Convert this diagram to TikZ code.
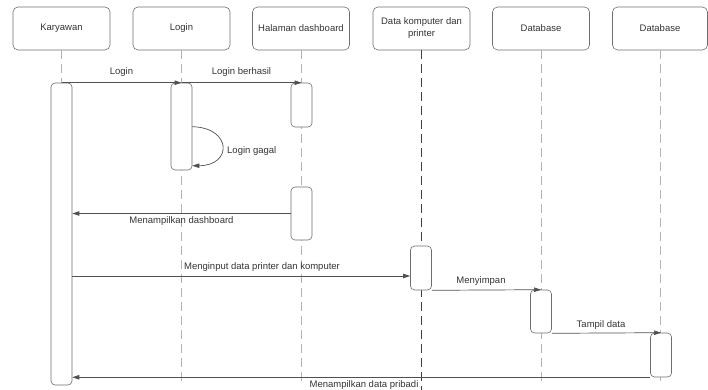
\documentclass[tikz,border=0pt]{standalone}
\usepackage{fontspec}
\setmainfont{Liberation Sans}
\usetikzlibrary{arrows.meta,calc}
\definecolor{boxgray}{HTML}{6E6E6E}
\definecolor{lifegray}{HTML}{B4B4B4}
\definecolor{lifedark}{HTML}{404040}
\definecolor{msggray}{HTML}{505050}
\definecolor{txt}{HTML}{333333}
\begin{document}
\begin{tikzpicture}[x=1pt,y=-1pt,
  hdr/.style={draw=boxgray, line width=0.6pt, rounded corners=5pt, minimum width=97pt, minimum height=43pt, align=center, font=\fontsize{9.5}{12}\selectfont, text=txt, inner sep=0pt},
  act/.style={draw=boxgray, line width=0.6pt, fill=white, rounded corners=4pt, minimum width=21pt, inner sep=0pt},
  life/.style={draw=lifegray, dash pattern=on 9pt off 5pt, line width=0.7pt},
  msg/.style={draw=msggray, line width=0.7pt, -{Triangle[length=7pt,width=4.5pt]}},
  lbl/.style={font=\fontsize{9.5}{12}\selectfont, text=txt, inner sep=0pt}]
\useasboundingbox (0,0) rectangle (708,390);

% headers
\node[hdr] (h1) at (61.5,28.5) {Karyawan};
\node[hdr] (h2) at (181.5,28.5) {Login};
\node[hdr] (h3) at (301,28.5) {Halaman dashboard};
\node[hdr] (h4) at (421.5,28.5) {Data komputer dan\\printer};
\node[hdr] (h5) at (541,28.5) {Database};
\node[hdr, minimum width=95pt] (h6) at (660,28.5) {Database};

% lifelines
\coordinate (bot) at (0,382);
\coordinate (bot2) at (0,390);
\draw[life] (h1.south) -- ++(0,33);
\draw[life] (h2.south) -- (h2.south |- bot);
\draw[life] (h3.south) -- (h3.south |- bot);
\draw[life, draw=lifedark] (h4.south) -- (h4.south |- bot2);
\draw[life] (h5.south) -- (h5.south |- bot);
\draw[life] (h6.south) -- (h6.south |- bot);

% activations
\node[act, minimum height=302pt] (a1) at (61.5,234) {};
\node[act, minimum height=87pt] (a2) at (181.5,126.5) {};
\node[act, minimum height=44pt] (a3) at (301.5,105) {};
\node[act, minimum height=53pt] (a4) at (301.5,213.5) {};
\node[act, minimum height=44pt] (a5) at (421,268) {};
\node[act, minimum height=43pt] (a6) at (541,311.5) {};
\node[act, minimum height=44pt] (a7) at (661,355) {};

% messages
\coordinate (yin) at (0,276);
\draw[msg] (a1.north) -- (a2.north) node[lbl, midway, above=6pt] (m1) {Login};
\draw[msg] (a2.north) -- (a3.north) node[lbl, midway, above=6pt] (m2) {Login berhasil};
\draw[msg] ($(a2.north east)+(0,44)$) .. controls ++(40,1) and ++(40,0) .. ($(a2.north east)+(0,83)$);
\node[lbl, anchor=west] (m3) at (227,151) {Login gagal};
\draw[msg] (a4.west) -- (a1.east |- a4.west);
\node[lbl] (m4) at (181.5,221) {Menampilkan dashboard};
\draw[msg] (a1.east |- yin) -- (a5.west |- yin);
\node[lbl] (m5) at (262,267) {Menginput data printer dan komputer};
\draw[msg] (a5.south east) -- (a6.north);
\node[lbl] (m6) at (481,281) {Menyimpan};
\draw[msg] (a6.south east) -- (a7.north);
\node[lbl] (m7) at (601,325) {Tampil data};
\draw[msg] (a7.south west) -- (a1.east |- a7.south);
\node[lbl] (m8) at (364,385) {Menampilkan data pribadi};
\end{tikzpicture}
\end{document}
